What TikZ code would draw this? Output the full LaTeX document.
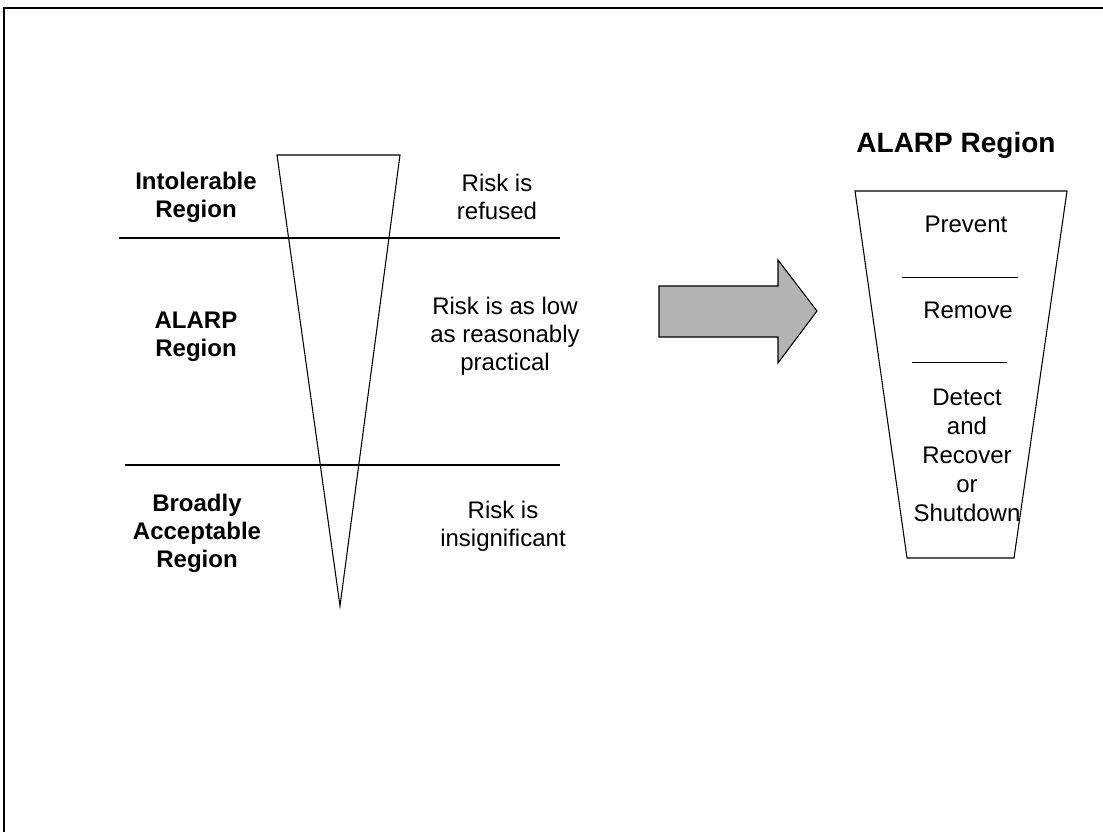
\documentclass[tikz,border=0pt]{standalone}
\usepackage{fontspec}
\setmainfont{Liberation Sans}
\usepackage{xcolor}
\definecolor{arrowgray}{RGB}{179,179,179}

\begin{document}
\begin{tikzpicture}[x=0.75pt,y=-0.75pt,
  txt/.style={align=center,inner sep=0pt,font=\fontsize{18}{21}\selectfont},
  boldtxt/.style={txt,font=\fontsize{18}{21}\selectfont\bfseries}]
\useasboundingbox (0,0) rectangle (1103,832);
\draw [line width=1.5pt] (1103,8) -- (4,8) -- (4,832);

\draw [line width=0.8pt] (277,155) -- (400,155) -- (340,606) -- cycle;
\draw [line width=1.2pt] (119,238) -- (560,238);
\draw [line width=1.2pt] (125,465) -- (560,465);

\node [boldtxt] (intol) at (196,197) {Intolerable\\Region};
\node [txt] (refused) at (497,197) {Risk is\\refused};
\node [boldtxt] (alarp) at (196,337) {ALARP\\Region};
\node [txt] (low) at (505,336) {Risk is as low\\as reasonably\\practical};
\node [boldtxt] (broad) at (197,533) {Broadly\\Acceptable\\Region};
\node [txt] (insig) at (503,526) {Risk is\\insignificant};

\filldraw [line width=0.8pt,fill=arrowgray] (659,286) -- (778,286) -- (778,260) -- (817,311) -- (778,363) -- (778,337) -- (659,337) -- cycle;

\node [boldtxt,font=\fontsize{21}{24}\selectfont\bfseries] (title) at (956,145) {ALARP Region};
\draw [line width=0.8pt] (855,191) -- (1067,191) -- (1014,558) -- (907,558) -- cycle;
\node [txt] (prevent) at (966,224) {Prevent};
\draw [line width=0.6pt] (902,277) -- (1018,277);
\node [txt] (remove) at (968,310) {Remove};
\draw [line width=0.6pt] (912,362) -- (1007,362);
\node [txt,font=\fontsize{18}{21.75}\selectfont] (detect) at (967,455) {Detect\\and\\Recover\\or\\Shutdown};
\end{tikzpicture}
\end{document}
